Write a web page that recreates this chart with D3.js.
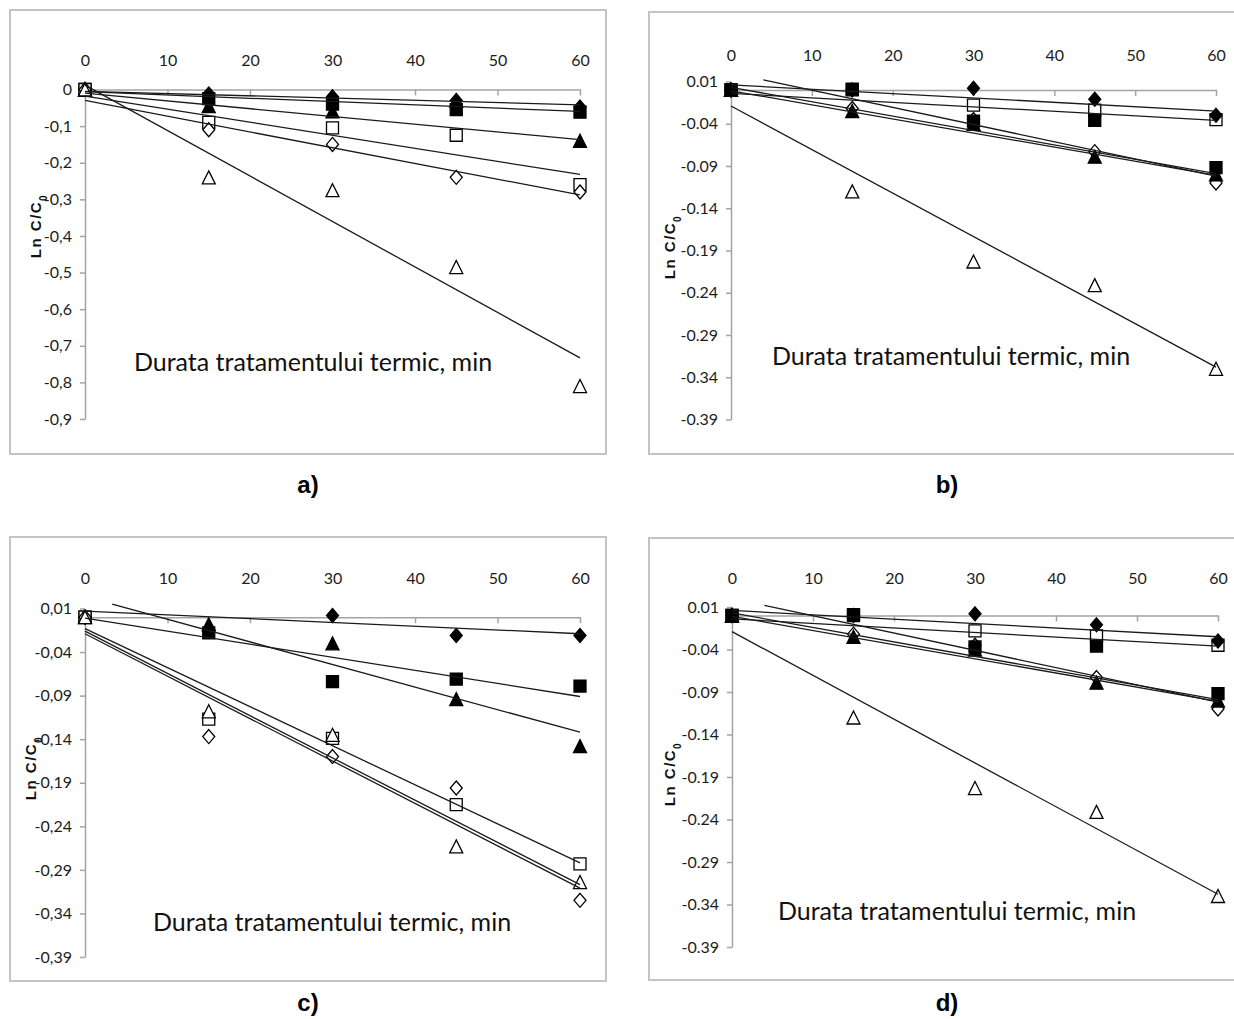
<!DOCTYPE html>
<html>
<head>
<meta charset="utf-8">
<script src="https://cdn.jsdelivr.net/npm/d3@7"></script>
<style>
  body { margin: 0; background: #fff; }
  svg { display: block; }
</style>
</head>
<body>
<svg id="fig" width="1234" height="1019"></svg>
<script>
// ---- shared axis values ----
const minutes = [0, 15, 30, 45, 60];
const xTickValues = [0, 10, 20, 30, 40, 50, 60];
const yTicksA = [0, -0.1, -0.2, -0.3, -0.4, -0.5, -0.6, -0.7, -0.8, -0.9];
const yTicksBCD = [0.01, -0.04, -0.09, -0.14, -0.19, -0.24, -0.29, -0.34, -0.39];
const seriesKinds = ["oTriangle", "oSquare", "oDiamond", "fTriangle", "fSquare", "fDiamond"];

// ---- panel a: ln C/C0 per series (order as seriesKinds) ----
const aOpenTriangle  = [0, -0.24, -0.275, -0.485, -0.81];
const aOpenSquare    = [0, -0.09, -0.105, -0.125, -0.26];
const aOpenDiamond   = [0, -0.11, -0.15, -0.24, -0.28];
const aFilledTriangle= [0, -0.045, -0.06, -0.03, -0.14];
const aFilledSquare  = [0, -0.025, -0.04, -0.055, -0.062];
const aFilledDiamond = [0, -0.012, -0.02, -0.03, -0.048];
// linear fits: [tStart, start, tEnd, end]
const aFitOpenTriangle   = [0, 0.012, 60, -0.733];
const aFitOpenSquare     = [0, -0.018, 60, -0.232];
const aFitOpenDiamond    = [0, -0.03, 60, -0.288];
const aFitFilledTriangle = [0, -0.01, 60, -0.137];
const aFitFilledSquare   = [0, -0.006, 60, -0.06];
const aFitFilledDiamond  = [0, -0.005, 60, -0.042];

// ---- panel b ----
const bOpenTriangle  = [0, -0.12, -0.203, -0.231, -0.33];
const bOpenSquare    = [0, 0, -0.018, -0.024, -0.035];
const bOpenDiamond   = [0, -0.022, -0.035, -0.073, -0.11];
const bFilledTriangle= [0, -0.025, -0.04, -0.079, -0.1];
const bFilledSquare  = [0, 0.001, -0.037, -0.036, -0.092];
const bFilledDiamond = [0, 0, 0.002, -0.011, -0.03];
const bFitOpenTriangle   = [0, -0.019, 60, -0.328];
const bFitOpenSquare     = [0, -0.004, 60, -0.036];
const bFitOpenDiamond    = [0, -0.001, 60, -0.101];
const bFitFilledTriangle = [4, 0.012, 60, -0.102];
const bFitFilledSquare   = [0, 0.003, 60, -0.099];
const bFitFilledDiamond  = [0, 0.006, 60, -0.025];

// ---- panel c ----
const cOpenTriangle  = [0, -0.108, -0.135, -0.263, -0.304];
const cOpenSquare    = [0, -0.117, -0.139, -0.215, -0.283];
const cOpenDiamond   = [0, -0.137, -0.16, -0.196, -0.325];
const cFilledTriangle= [0, -0.008, -0.03, -0.094, -0.148];
const cFilledSquare  = [0, -0.018, -0.074, -0.071, -0.079];
const cFilledDiamond = [0, -0.016, 0.002, -0.021, -0.021];
const cFitOpenTriangle   = [0, -0.016, 60, -0.307];
const cFitOpenSquare     = [0, -0.013, 60, -0.282];
const cFitOpenDiamond    = [0, -0.019, 60, -0.311];
const cFitFilledTriangle = [3.3, 0.015, 60, -0.132];
const cFitFilledSquare   = [0, -0.001, 60, -0.091];
const cFitFilledDiamond  = [0, 0.007, 60, -0.019];

// ---- panel d ----
const dOpenTriangle  = [0, -0.12, -0.203, -0.231, -0.33];
const dOpenSquare    = [0, 0, -0.018, -0.024, -0.035];
const dOpenDiamond   = [0, -0.022, -0.035, -0.073, -0.11];
const dFilledTriangle= [0, -0.025, -0.04, -0.079, -0.1];
const dFilledSquare  = [0, 0.001, -0.037, -0.036, -0.092];
const dFilledDiamond = [0, 0, 0.002, -0.011, -0.03];
const dFitOpenTriangle   = [0, -0.019, 60, -0.328];
const dFitOpenSquare     = [0, -0.004, 60, -0.036];
const dFitOpenDiamond    = [0, -0.001, 60, -0.101];
const dFitFilledTriangle = [4, 0.012, 60, -0.102];
const dFitFilledSquare   = [0, 0.003, 60, -0.099];
const dFitFilledDiamond  = [0, 0.006, 60, -0.025];

const xTitle = "Durata tratamentului termic, min";

// ---- layout of the four panels ----
const commaFmt = digits => d => d === 0 ? "0" : d.toFixed(digits).replace(".", ",");
const dotFmt = digits => d => d.toFixed(digits);
// stacking of the marker series (indices into seriesKinds), bottom first
const openOnTop = [3, 4, 5, 1, 2, 0];
const filledOnTop = [0, 1, 2, 3, 4, 5];

const panels = [
  { frame: [10, 10, 596, 444], xr: [85, 580], yd: [-0.9, 0], yr: [419, 89.5], labelGap: 24, order: openOnTop,
    yTicks: yTicksA, fmt: commaFmt(1), title: [313, 362], yTitle: [36, 226], tag: "a)", tagXY: [308, 485],
    values: [aOpenTriangle, aOpenSquare, aOpenDiamond, aFilledTriangle, aFilledSquare, aFilledDiamond],
    fits: [aFitOpenTriangle, aFitOpenSquare, aFitOpenDiamond, aFitFilledTriangle, aFitFilledSquare, aFitFilledDiamond] },
  { frame: [649, 12, 600, 442], xr: [731, 1216], yd: [-0.39, 0.01], yr: [419.5, 81.5], labelGap: 21, order: filledOnTop,
    yTicks: yTicksBCD, fmt: dotFmt(2), title: [951, 356], yTitle: [670, 247], tag: "b)", tagXY: [947, 485],
    values: [bOpenTriangle, bOpenSquare, bOpenDiamond, bFilledTriangle, bFilledSquare, bFilledDiamond],
    fits: [bFitOpenTriangle, bFitOpenSquare, bFitOpenDiamond, bFitFilledTriangle, bFitFilledSquare, bFitFilledDiamond] },
  { frame: [10, 537, 596, 444], xr: [85, 580], yd: [-0.39, 0.01], yr: [957, 608.5], labelGap: 25, order: openOnTop,
    yTicks: yTicksBCD, fmt: commaFmt(2), title: [332, 922], yTitle: [31, 768], tag: "c)", tagXY: [308, 1003],
    values: [cOpenTriangle, cOpenSquare, cOpenDiamond, cFilledTriangle, cFilledSquare, cFilledDiamond],
    fits: [cFitOpenTriangle, cFitOpenSquare, cFitOpenDiamond, cFitFilledTriangle, cFitFilledSquare, cFitFilledDiamond] },
  { frame: [649, 538, 600, 442], xr: [732, 1218], yd: [-0.39, 0.01], yr: [947, 607], labelGap: 23, order: filledOnTop,
    yTicks: yTicksBCD, fmt: dotFmt(2), title: [957, 911], yTitle: [670, 774], tag: "d)", tagXY: [947, 1003],
    values: [dOpenTriangle, dOpenSquare, dOpenDiamond, dFilledTriangle, dFilledSquare, dFilledDiamond],
    fits: [dFitOpenTriangle, dFitOpenSquare, dFitOpenDiamond, dFitFilledTriangle, dFitFilledSquare, dFitFilledDiamond] }
];

// marker outlines, centred on the data point
function markerPath(kind) {
  const shape = kind.slice(1);
  if (shape === "Square") { const s = 12; return `M${-s/2},${-s/2}h${s}v${s}h${-s}Z`; }
  if (shape === "Diamond") { const w = 12, h = 14; return `M0,${-h/2}L${w/2},0L0,${h/2}L${-w/2},0Z`; }
  const w = 13, h = 13; return `M0,${-h/2}L${w/2},${h/2}L${-w/2},${h/2}Z`;
}

const svg = d3.select("#fig");
const tickFont = "Lato, 'Open Sans', sans-serif";
const axisColor = "#a3a3a3";
const inkColor = "#1c1c1c";

panels.forEach(p => {
  const g = svg.append("g");
  // chart frame
  g.append("rect")
    .attr("x", p.frame[0]).attr("y", p.frame[1])
    .attr("width", p.frame[2]).attr("height", p.frame[3])
    .attr("fill", "none").attr("stroke", "#c4c4c4").attr("stroke-width", 2);

  const x = d3.scaleLinear().domain([0, 60]).range(p.xr);
  const y = d3.scaleLinear().domain(p.yd).range(p.yr);
  const plotTop = p.yr[1];
  const y0 = y(0);

  // horizontal axis crossing at zero, labels along the top of the plot
  const xAxis = d3.axisTop(x).tickValues(xTickValues)
    .tickSizeInner(-6).tickSizeOuter(0)
    .tickPadding(y0 - plotTop + p.labelGap)
    .tickFormat(d3.format("d"));
  const gx = g.append("g").attr("transform", `translate(0,${y0})`).call(xAxis);

  // vertical axis
  const yAxis = d3.axisLeft(y).tickValues(p.yTicks)
    .tickSizeInner(5).tickSizeOuter(0).tickPadding(8)
    .tickFormat(p.fmt);
  const gy = g.append("g").attr("transform", `translate(${p.xr[0]},0)`).call(yAxis);

  [gx, gy].forEach(ax => {
    ax.select(".domain").attr("stroke", axisColor).attr("stroke-width", 1.5);
    ax.selectAll(".tick line").attr("stroke", axisColor).attr("stroke-width", 1.5);
    ax.selectAll(".tick text").attr("fill", inkColor)
      .style("font-family", tickFont).style("font-size", "16px");
  });

  // data markers
  p.order.forEach(i => {
    const kind = seriesKinds[i];
    const filled = kind[0] === "f";
    g.append("g").selectAll("path").data(p.values[i]).join("path")
      .attr("d", markerPath(kind))
      .attr("transform", (v, j) => `translate(${x(minutes[j])},${y(v)})`)
      .attr("fill", filled ? "#000" : "#fff")
      .attr("stroke", "#000").attr("stroke-width", 1.3);
  });

  // linear trend lines
  const line = d3.line().x(d => x(d[0])).y(d => y(d[1]));
  p.fits.forEach(f => {
    g.append("path")
      .attr("d", line([[f[0], f[1]], [f[2], f[3]]]))
      .attr("fill", "none").attr("stroke", "#1a1a1a").attr("stroke-width", 1.3);
  });

  // axis titles
  g.append("text")
    .attr("x", p.title[0]).attr("y", p.title[1]).attr("dy", "0.35em")
    .attr("text-anchor", "middle")
    .style("font-family", "Lato, 'Open Sans', sans-serif").style("font-size", "25px")
    .attr("fill", "#111").text(xTitle);

  const yt = g.append("text")
    .attr("transform", `translate(${p.yTitle[0]},${p.yTitle[1]}) rotate(-90)`)
    .attr("text-anchor", "middle").attr("dy", "0.35em")
    .style("font-family", "'Liberation Sans', Arial, sans-serif")
    .style("font-size", "15px").style("font-weight", "bold")
    .style("letter-spacing", "1.5px").attr("fill", "#111");
  yt.append("tspan").text("Ln C/C");
  yt.append("tspan").attr("baseline-shift", "sub").style("font-size", "10px").text("0");

  // panel tag
  g.append("text")
    .attr("x", p.tagXY[0]).attr("y", p.tagXY[1]).attr("dy", "0.35em")
    .attr("text-anchor", "middle")
    .style("font-family", "'Liberation Sans', Arial, sans-serif")
    .style("font-size", "24px").style("font-weight", "bold")
    .attr("fill", "#000").text(p.tag);
});
</script>
</body>
</html>
